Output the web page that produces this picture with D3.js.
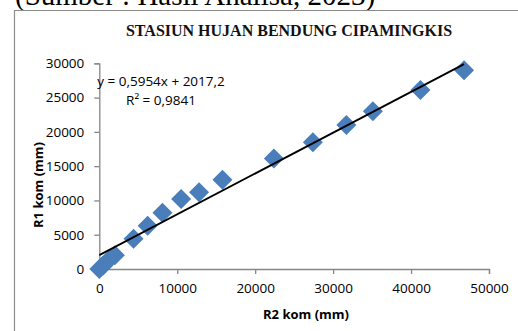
<!DOCTYPE html>
<html><head><meta charset="utf-8">
<script src="https://cdn.jsdelivr.net/npm/d3@7"></script>
<style>html,body{margin:0;padding:0;background:#fff;overflow:hidden}</style>
</head><body>
<svg id="c" width="518" height="331"></svg>
<script>
const caption = "(Sumber : Hasil Analisa, 2023)";
const title = "STASIUN HUJAN BENDUNG CIPAMINGKIS";
const xTitle = "R2 kom (mm)";
const yTitle = "R1 kom (mm)";
const r2Values = [0, 500, 1200, 2000, 4400, 6200, 8100, 10500, 12800, 15800, 22400, 27400, 31700, 35100, 41200, 46800];
const r1Values = [0, 500, 1300, 2000, 4400, 6300, 8200, 10200, 11200, 13000, 16100, 18500, 21000, 23000, 26100, 29000];
const xTicks = [0, 10000, 20000, 30000, 40000, 50000];
const yTicks = [0, 5000, 10000, 15000, 20000, 25000, 30000];
const slope = [0.5954];
const intercept = [2017.2];
const eqLabel = "y = 0,5954x + 2017,2";
const r2Label = "R² = 0,9841";

const svg = d3.select("#c");
const F = "'Open Sans', sans-serif";
const axisCol = "#868686";

svg.append("text").attr("x", 15).attr("y", 5).attr("font-family", "'Liberation Serif', serif")
  .attr("font-size", 29).attr("fill", "#000").text(caption);

svg.append("path").attr("d", "M14.5,340V10.5H530").attr("fill", "none").attr("stroke", "#8c8c8c").attr("stroke-width", 1.2);

svg.append("text").attr("x", 289).attr("y", 36).attr("text-anchor", "middle")
  .attr("font-family", "'Liberation Serif', serif").attr("font-weight", "bold").attr("font-size", 16)
  .attr("fill", "#111").text(title);

const x = d3.scaleLinear().domain([0, 50000]).range([99.3, 489]);
const y = d3.scaleLinear().domain([0, 30000]).range([269, 63.3]);

const gx = svg.append("g").attr("transform", `translate(0,${y(0)})`)
  .call(d3.axisBottom(x).tickValues(xTicks).tickSize(5).tickPadding(9).tickFormat(d3.format("d")));
const gy = svg.append("g").attr("transform", `translate(${x(0)},0)`)
  .call(d3.axisLeft(y).tickValues(yTicks).tickSize(5).tickPadding(10).tickFormat(d3.format("d")));
[gx, gy].forEach(g => {
  g.select(".domain").attr("stroke", axisCol).attr("stroke-width", 1.3);
  g.selectAll(".tick line").attr("stroke", axisCol).attr("stroke-width", 1.3);
  g.selectAll(".tick text").attr("font-family", F).attr("font-size", 13.5).attr("fill", "#000");
});

const pts = r2Values.map((v, i) => [v, r1Values[i]]);
svg.append("g").selectAll("path").data(pts).join("path")
  .attr("d", d3.symbol().type(d3.symbolSquare).size(200))
  .attr("transform", d => `translate(${x(d[0])},${y(d[1])}) rotate(45)`)
  .attr("fill", "#4a7ebb");

const xMin = d3.min(r2Values), xMax = d3.max(r2Values);
svg.append("line")
  .attr("x1", x(xMin)).attr("y1", y(slope[0] * xMin + intercept[0]))
  .attr("x2", x(xMax)).attr("y2", y(slope[0] * xMax + intercept[0]))
  .attr("stroke", "#000").attr("stroke-width", 1.8);

svg.append("text").attr("x", 161).attr("y", 86).attr("text-anchor", "middle")
  .attr("font-family", F).attr("font-size", 13.5).attr("fill", "#000").text(eqLabel);
svg.append("text").attr("x", 161).attr("y", 105).attr("text-anchor", "middle")
  .attr("font-family", F).attr("font-size", 13.5).attr("fill", "#000").text(r2Label);

svg.append("text").attr("x", 306).attr("y", 319).attr("text-anchor", "middle")
  .attr("font-family", F).attr("font-weight", "bold").attr("font-size", 13).attr("fill", "#000").text(xTitle);
svg.append("text").attr("transform", "translate(43,185) rotate(-90)").attr("text-anchor", "middle")
  .attr("font-family", F).attr("font-weight", "bold").attr("font-size", 13).attr("fill", "#000").text(yTitle);
</script>
</body></html>
